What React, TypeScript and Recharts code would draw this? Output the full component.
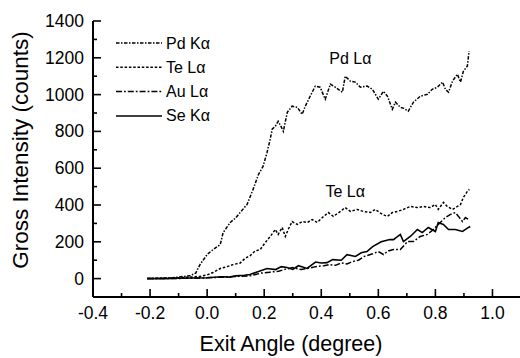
import React from 'react';
import { LineChart, Line, XAxis, YAxis, Legend, ReferenceDot } from 'recharts';

const pdX = [-0.21,-0.18,-0.15,-0.12,-0.10,-0.08,-0.06,-0.04,-0.025,0.0,0.021,0.046,0.056,0.081,0.1,0.116,0.14,0.161,0.18,0.196,0.21,0.221,0.228,0.239,0.249,0.258,0.267,0.281,0.298,0.316,0.333,0.344,0.361,0.379,0.396,0.414,0.432,0.449,0.474,0.484,0.502,0.519,0.537,0.561,0.579,0.6,0.618,0.632,0.649,0.66,0.677,0.69,0.705,0.723,0.747,0.772,0.789,0.807,0.825,0.835,0.846,0.86,0.877,0.888,0.898,0.912,0.918];
const pdY = [0,2,3,5,8,12,15,30,76,131,158,185,250,305,330,360,403,485,566,610,686,757,812,828,855,830,800,904,937,931,893,937,991,1046,1040,975,1057,1040,1013,1100,1073,1068,1040,1046,1029,975,1018,991,920,959,931,925,910,959,991,1002,1029,1040,1068,1029,1013,1073,1111,1068,1127,1155,1236];

const teX = [-0.21,-0.15,-0.10,-0.06,-0.025,0.0,0.021,0.046,0.07,0.091,0.116,0.133,0.151,0.168,0.186,0.204,0.221,0.239,0.249,0.263,0.274,0.284,0.298,0.316,0.333,0.351,0.368,0.386,0.404,0.425,0.442,0.467,0.484,0.502,0.526,0.547,0.572,0.589,0.614,0.632,0.649,0.667,0.688,0.712,0.737,0.758,0.782,0.8,0.81,0.828,0.842,0.86,0.877,0.888,0.898,0.912,0.919];
const teY = [0,2,5,8,12,20,33,55,65,76,85,110,125,150,158,196,229,267,240,278,229,267,310,294,310,305,321,305,332,359,338,365,386,365,376,365,359,376,349,338,359,365,376,392,386,392,386,403,376,414,392,376,392,403,441,474,485];

const auX = [-0.21,-0.15,-0.10,-0.05,0.0,0.05,0.10,0.15,0.19,0.22,0.25,0.27,0.30,0.33,0.36,0.38,0.41,0.43,0.45,0.47,0.49,0.51,0.53,0.55,0.58,0.60,0.618,0.635,0.653,0.677,0.702,0.723,0.747,0.772,0.793,0.81,0.835,0.853,0.87,0.881,0.895,0.905,0.916];
const auY = [0,0,1,2,4,8,12,15,30,35,40,49,60,49,58,65,70,76,72,85,80,93,100,120,135,147,131,150,158,158,201,201,229,240,267,294,332,349,359,338,310,332,321];

const seX = [-0.21,-0.15,-0.10,-0.05,0.0,0.05,0.08,0.10,0.13,0.15,0.18,0.21,0.24,0.26,0.28,0.30,0.32,0.35,0.38,0.40,0.42,0.44,0.47,0.49,0.52,0.54,0.56,0.58,0.61,0.64,0.653,0.677,0.688,0.712,0.737,0.754,0.775,0.8,0.81,0.828,0.846,0.87,0.895,0.916,0.922];
const seY = [0,0,2,3,5,10,8,15,18,22,38,55,49,65,60,50,70,55,90,85,87,103,100,130,120,140,147,174,200,212,212,240,201,229,267,250,278,256,305,294,267,267,256,278,283];

const seriesNames = ['Pd K\u03b1', 'Te L\u03b1', 'Au L\u03b1', 'Se K\u03b1'];
const annotationLabels = ['Pd L\u03b1', 'Te L\u03b1'];

const xTicks = [-0.4,-0.3,-0.2,-0.1,0.0,0.1,0.2,0.3,0.4,0.5,0.6,0.7,0.8,0.9,1.0];
const yTicks = [0,100,200,300,400,500,600,700,800,900,1000,1100,1200,1300,1400];

const FONT = 'Arial, "Liberation Sans", Helvetica, sans-serif';
const INK = '#000';

const toData = (xs: number[], ys: number[]) => xs.map((x, i) => ({ x, y: ys[i] }));
const pdData = toData(pdX, pdY);
const teData = toData(teX, teY);
const auData = toData(auX, auY);
const seData = toData(seX, seY);

const dashes = ['3.5 1.5 1.5 1.5', '2.5 1.8', '6 2 1.8 2', undefined];

const isMajorX = (v: number) => Math.round(v * 10) % 2 === 0;
const isMajorY = (v: number) => Math.round(v / 100) % 2 === 0;

const XTickBottom = (props: any) => {
  const { x, y, payload } = props;
  const v = payload.value;
  const major = isMajorX(v);
  return (
    <g>
      <path d={`M${x},${y}V${y - (major ? 8 : 4)}`} stroke={INK} strokeWidth={1.6} fill="none" />
      {major && (
        <text x={x} y={y + 22} textAnchor="middle" fontSize={17.5} fontFamily={FONT} fill={INK}>
          {v.toFixed(1)}
        </text>
      )}
    </g>
  );
};

const XTickTop = (props: any) => {
  const { x, y, payload } = props;
  const major = isMajorX(payload.value);
  return <path d={`M${x},${y}V${y + (major ? 8 : 4)}`} stroke={INK} strokeWidth={1.6} fill="none" />;
};

const YTickLeft = (props: any) => {
  const { x, y, payload } = props;
  const v = payload.value;
  const major = isMajorY(v);
  return (
    <g>
      <path d={`M${x},${y}H${x + (major ? 8 : 4)}`} stroke={INK} strokeWidth={1.6} fill="none" />
      {major && (
        <text x={x - 9} y={y + 6} textAnchor="end" fontSize={17.5} fontFamily={FONT} fill={INK}>
          {v}
        </text>
      )}
    </g>
  );
};

const YTickRight = (props: any) => {
  const { x, y, payload } = props;
  const major = isMajorY(payload.value);
  return <path d={`M${x},${y}H${x - (major ? 6 : 4)}`} stroke={INK} strokeWidth={1.6} fill="none" />;
};

const renderLegend = () => (
  <svg width={130} height={100} style={{ display: 'block' }}>
    {seriesNames.map((name, i) => {
      const y = 12 + i * 24.3;
      return (
        <g key={name}>
          <line x1={1} x2={47} y1={y} y2={y} stroke={INK} strokeWidth={1.5} strokeDasharray={dashes[i]} />
          <text x={51} y={y + 5.5} fontSize={16} fontFamily={FONT} fill={INK}>{name}</text>
        </g>
      );
    })}
  </svg>
);

const yTitle = (props: any) => {
  const vb = props.viewBox;
  const cx = 20;
  const cy = vb.y + vb.height / 2 - 9;
  return (
    <text x={cx} y={cy} transform={`rotate(-90 ${cx} ${cy})`} textAnchor="middle" dominantBaseline="central" fontSize={22.5} fontFamily={FONT} fill={INK}>
      Gross Intensity (counts)
    </text>
  );
};

const xTitle = () => (
  <text x={291} y={351} textAnchor="middle" fontSize={21.5} fontFamily={FONT} fill={INK}>
    Exit Angle (degree)
  </text>
);

const axisLineStyle = { stroke: INK, strokeWidth: 2 };

export default function App() {
  return (
    <div style={{ position: 'absolute', left: 0, top: 0, width: 520, height: 358, overflow: 'hidden', background: '#fff' }}>
      <LineChart width={540} height={358} margin={{ top: 21, right: 19, bottom: 0, left: 0 }}>
        <XAxis xAxisId="b" dataKey="x" type="number" domain={[-0.4, 1.1]} ticks={xTicks} allowDataOverflow height={61}
          tickSize={0} tickMargin={0} tickLine={false} tick={XTickBottom} interval={0} axisLine={axisLineStyle} label={xTitle} />
        <XAxis xAxisId="t" orientation="top" dataKey="x" type="number" domain={[-0.4, 1.1]} ticks={xTicks} allowDataOverflow height={0}
          tickSize={0} tickMargin={0} tickLine={false} tick={XTickTop} interval={0} axisLine={axisLineStyle} />
        <YAxis yAxisId="l" type="number" domain={[-100, 1400]} ticks={yTicks} allowDataOverflow width={93}
          tickSize={0} tickMargin={0} tickLine={false} tick={YTickLeft} interval={0} axisLine={axisLineStyle} label={yTitle} />
        <YAxis yAxisId="r" orientation="right" type="number" domain={[-100, 1400]} ticks={yTicks} allowDataOverflow width={0}
          tickSize={0} tickMargin={0} tickLine={false} tick={YTickRight} interval={0} axisLine={axisLineStyle} />
        <Line xAxisId="b" yAxisId="l" data={pdData} dataKey="y" name={seriesNames[0]} stroke={INK} strokeWidth={1.5} strokeDasharray={dashes[0]} dot={false} isAnimationActive={false} />
        <Line xAxisId="b" yAxisId="l" data={teData} dataKey="y" name={seriesNames[1]} stroke={INK} strokeWidth={1.5} strokeDasharray={dashes[1]} dot={false} isAnimationActive={false} />
        <Line xAxisId="b" yAxisId="l" data={auData} dataKey="y" name={seriesNames[2]} stroke={INK} strokeWidth={1.5} strokeDasharray={dashes[2]} dot={false} isAnimationActive={false} />
        <Line xAxisId="b" yAxisId="l" data={seData} dataKey="y" name={seriesNames[3]} stroke={INK} strokeWidth={1.6} dot={false} isAnimationActive={false} />
        <ReferenceDot xAxisId="b" yAxisId="l" x={0.502} y={1198} r={0} fill="none" stroke="none"
          label={{ value: annotationLabels[0], position: 'center', fontSize: 16, fontFamily: FONT, fill: INK }} />
        <ReferenceDot xAxisId="b" yAxisId="l" x={0.484} y={474} r={0} fill="none" stroke="none"
          label={{ value: annotationLabels[1], position: 'center', fontSize: 16, fontFamily: FONT, fill: INK }} />
        <Legend layout="vertical" align="center" verticalAlign="middle" content={renderLegend}
          wrapperStyle={{ position: 'absolute', left: 115, top: 31, width: 130, height: 100 }} />
      </LineChart>
    </div>
  );
}
